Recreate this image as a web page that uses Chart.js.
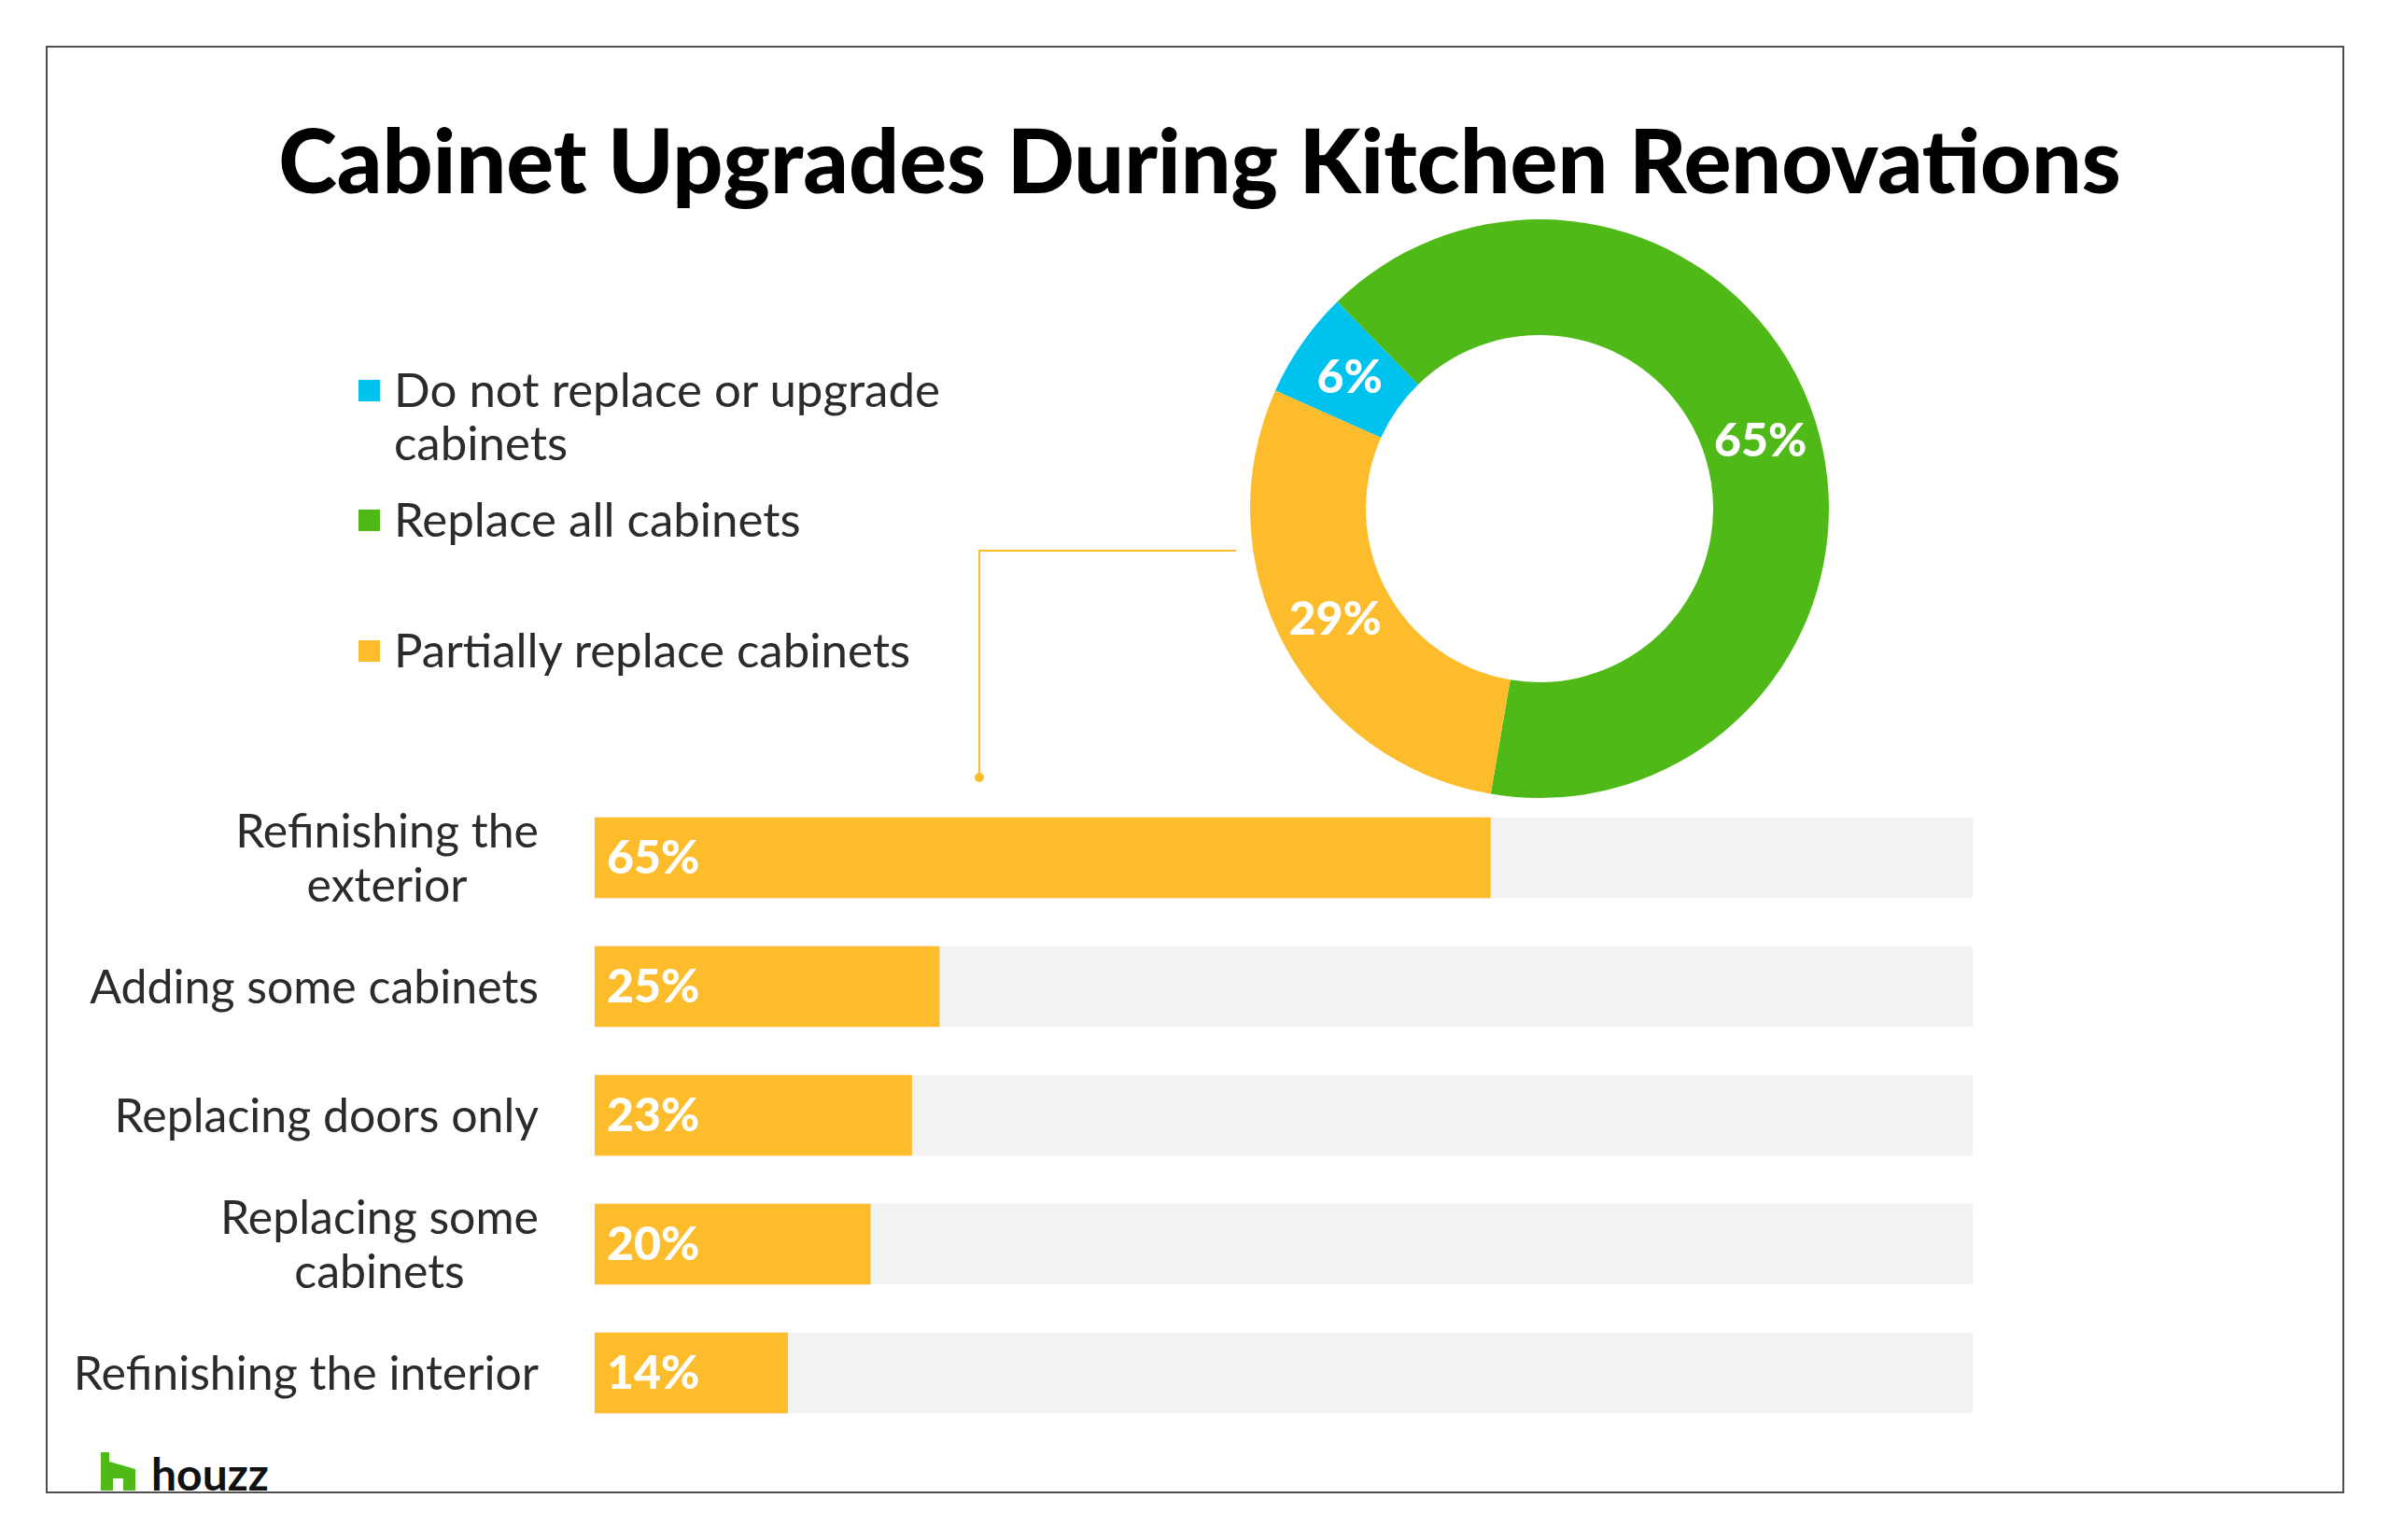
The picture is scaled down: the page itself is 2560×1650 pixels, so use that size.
<!DOCTYPE html>
<html>
<head>
<meta charset="utf-8">
<script src="https://cdn.jsdelivr.net/npm/chart.js@4.4.1/dist/chart.umd.min.js"></script>
<style>
  html, body { margin: 0; padding: 0; background: #fff; }
  body { width: 2560px; height: 1650px; position: relative; overflow: hidden; font-family: Lato, "Noto Sans", sans-serif; color: #2b2b2b; }
  .abs { position: absolute; }
  #frame { left: 49px; top: 49px; width: 2462px; height: 1551px; border: 2px solid #505050; box-sizing: border-box; }
  #title { left: 0; width: 2570px; top: 123px; text-align: center; font-size: 95px; line-height: 1; font-weight: 900; color: #000; }
  .lg { left: 422px; font-size: 51px; line-height: 57px; white-space: nowrap; }
  .sw { left: 384px; width: 23px; height: 23px; }
  .con { background: #fdbc2b; }
  #logoText { left: 162px; top: 1555px; font-size: 48px; line-height: 48px; font-weight: 700; color: #111; }
</style>
</head>
<body>
<div id="frame" class="abs"></div>
<div id="title" class="abs">Cabinet Upgrades During Kitchen Renovations</div>
<div id="legend"></div>

<div class="abs con" style="left:1049px; top:589px; width:275px; height:2px;"></div>
<div class="abs con" style="left:1048px; top:589px; width:2px; height:243px;"></div>
<div class="abs con" style="left:1044px; top:828px; width:10px; height:10px; border-radius:5px;"></div>

<canvas id="donut" class="abs" width="640" height="640" style="left:1329px; top:225px;"></canvas>
<canvas id="bars" class="abs" width="2200" height="690" style="left:0px; top:850px;"></canvas>

<svg class="abs" style="left:108px; top:1556px;" width="37" height="41" viewBox="0 0 37 41">
  <polygon points="0,0 9,0 9,10 37,18 37,41 24,41 24,28 13,28 13,41 0,41" fill="#4fba17"/>
</svg>
<div id="logoText" class="abs">houzz</div>

<script>
// donut data
const pieLabels = [["Do not replace or upgrade", "cabinets"], ["Replace all cabinets"], ["Partially replace cabinets"]];
const pieValues = [6, 65, 29];
const pieColors = ["#00c2ee", "#4fba17", "#fdbc2b"];
const legendTops = [388, 527, 667];

// bar data
const barLabels = [["Refinishing the", "exterior"], ["Adding some cabinets"], ["Replacing doors only"], ["Replacing some", "cabinets"], ["Refinishing the interior"]];
const barValues = [65, 25, 23, 20, 14];
const barTrack = [100, 100, 100, 100, 100];

const YELLOW = "#fdbc2b";
const TRACK = "#f2f2f2";
const TEXT = "#2b2b2b";
const VALUE_FONT = "900 50px Lato, 'Noto Sans', sans-serif";
const LABEL_FONT = "400 50px Lato, 'Noto Sans', sans-serif";

// html legend
let legend = document.getElementById("legend");
pieLabels.forEach(function (lines, i) {
    let sw = document.createElement("div");
    sw.className = "abs sw";
    sw.style.top = (legendTops[i] + 19) + "px";
    sw.style.background = pieColors[i];
    legend.appendChild(sw);
    let t = document.createElement("div");
    t.className = "abs lg";
    t.style.top = legendTops[i] + "px";
    t.innerHTML = lines.join("<br>");
    legend.appendChild(t);
});

const arcLabels = {
    id: "arcLabels",
    afterDatasetsDraw(chart) {
        let ctx = chart.ctx;
        ctx.save();
        ctx.font = VALUE_FONT;
        ctx.fillStyle = "#fff";
        ctx.textAlign = "center";
        ctx.textBaseline = "middle";
        chart.getDatasetMeta(0).data.forEach(function (arc, i) {
            let p = arc.tooltipPosition();
            ctx.fillText(pieValues[i] + "%", p.x, p.y + 2);
        });
        ctx.restore();
    }
};

new Chart(document.getElementById("donut"), {
    type: "doughnut",
    data: {
        labels: pieLabels.map(l => l.join(" ")),
        datasets: [{
            data: pieValues,
            backgroundColor: pieColors,
            borderWidth: 0
        }]
    },
    options: {
        responsive: false,
        animation: false,
        events: [],
        rotation: -65.9,
        cutout: "60%",
        layout: { padding: 10 },
        plugins: { legend: { display: false }, tooltip: { enabled: false } }
    },
    plugins: [arcLabels]
});

const barText = {
    id: "barText",
    afterDatasetsDraw(chart) {
        let ctx = chart.ctx;
        let yScale = chart.scales.y;
        let left = chart.chartArea.left;
        ctx.save();
        // values inside bars
        ctx.font = VALUE_FONT;
        ctx.fillStyle = "#fff";
        ctx.textAlign = "left";
        ctx.textBaseline = "middle";
        chart.getDatasetMeta(0).data.forEach(function (bar, i) {
            ctx.fillText(barValues[i] + "%", bar.base + 13, bar.y + 1);
        });
        // category labels, right aligned block, lines centred
        ctx.font = LABEL_FONT;
        ctx.fillStyle = TEXT;
        ctx.textAlign = "center";
        barLabels.forEach(function (lines, i) {
            let y = yScale.getPixelForValue(i);
            let w = Math.max.apply(null, lines.map(s => ctx.measureText(s).width));
            let cx = left - 60 - w / 2;
            lines.forEach(function (s, j) {
                ctx.fillText(s, cx, y + (j - (lines.length - 1) / 2) * 58 + 2);
            });
        });
        ctx.restore();
    }
};

new Chart(document.getElementById("bars"), {
    type: "bar",
    data: {
        labels: barLabels.map(l => l.join(" ")),
        datasets: [
            { data: barValues, backgroundColor: YELLOW, barThickness: 86, grouped: false, order: 0 },
            { data: barTrack, backgroundColor: TRACK, barThickness: 86, grouped: false, order: 1 }
        ]
    },
    options: {
        indexAxis: "y",
        responsive: false,
        animation: false,
        events: [],
        layout: { padding: { left: 637, right: 87, top: 0, bottom: 0 } },
        scales: {
            x: { display: false, min: 0, max: 100 },
            y: { display: false }
        },
        plugins: { legend: { display: false }, tooltip: { enabled: false } }
    },
    plugins: [barText]
});
</script>
</body>
</html>
